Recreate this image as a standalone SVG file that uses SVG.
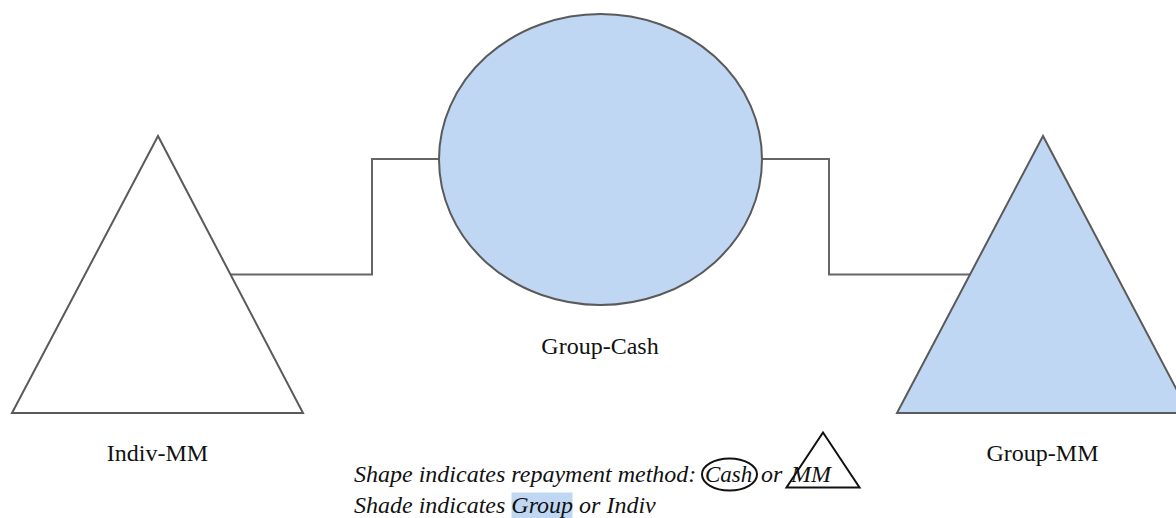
<svg xmlns="http://www.w3.org/2000/svg" width="1176" height="518" viewBox="0 0 1176 518">
  <style>
    .shape { stroke: #5a5a5a; stroke-width: 2; stroke-linejoin: miter; }
    .plain { fill: #ffffff; }
    .group { fill: #c0d7f3; }
    .link { fill: none; stroke: #666666; stroke-width: 2; }
    .label { font-family: "Liberation Serif", "Times New Roman", serif; font-size: 24px; fill: #111111; }
    .note { font-family: "Liberation Serif", "Times New Roman", serif; font-size: 24px; font-style: italic; fill: #111111; }
    .key { fill: none; stroke: #111111; stroke-width: 2; }
  </style>
  <rect width="1176" height="518" fill="#ffffff"/>

  <!-- connectors -->
  <g id="connectors">
    <polyline class="link" points="231,274.5 372,274.5 372,159 439,159"/>
    <polyline class="link" points="762,159 829,159 829,274.5 970,274.5"/>
  </g>

  <!-- nodes -->
  <g id="indiv-mm">
    <polygon class="shape plain" points="158,136 12,413 303,413"/>
    <text class="label" x="157.5" y="461" text-anchor="middle">Indiv-MM</text>
  </g>
  <g id="group-cash">
    <ellipse class="shape group" cx="600.5" cy="159.5" rx="161.5" ry="145.5"/>
    <text class="label" x="600" y="354" text-anchor="middle">Group-Cash</text>
  </g>
  <g id="group-mm">
    <polygon class="shape group" points="1043,136 897,413 1189,413"/>
    <text class="label" x="1042.5" y="461" text-anchor="middle">Group-MM</text>
  </g>

  <!-- key -->
  <g id="legend">
    <rect x="511.5" y="492.5" width="61" height="26" fill="#c0d7f3"/>
    <ellipse class="key" cx="729.5" cy="474.5" rx="27.5" ry="16"/>
    <polygon class="key" points="823,432.5 786.5,487.5 859.5,487.5"/>
    <text class="note" y="482">
      <tspan x="354">Shape indicates repayment method:</tspan>
      <tspan x="705" style="font-size:23px">Cash</tspan>
      <tspan x="761">or</tspan>
      <tspan x="791">MM</tspan>
    </text>
    <text class="note" x="354" y="513">Shade indicates <tspan>Group</tspan> or Indiv</text>
  </g>
</svg>
